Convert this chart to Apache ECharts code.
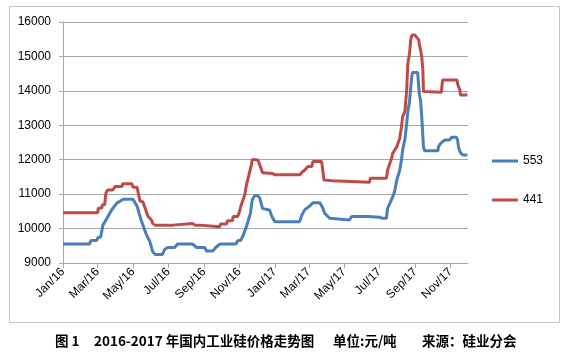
<!DOCTYPE html>
<html>
<head>
<meta charset="utf-8">
<script src="https://cdn.jsdelivr.net/npm/echarts@6/dist/echarts.min.js"></script>
<style>
html,body{margin:0;padding:0;background:#fff;}
#chart{width:569px;height:360px;}
</style>
</head>
<body>
<div id="chart"></div>
<script>
const tickDates = ['2016-01-01','2016-03-01','2016-05-01','2016-07-01','2016-09-01','2016-11-01',
                   '2017-01-01','2017-03-01','2017-05-01','2017-07-01','2017-09-01','2017-11-01'];
const tickLabels = ['Jan/16','Mar/16','May/16','Jul/16','Sep/16','Nov/16',
                    'Jan/17','Mar/17','May/17','Jul/17','Sep/17','Nov/17'];
const axisStart = '2016-01-01';
const axisEnd = '2017-12-01';

const dates553 = ['2016-01-01','2016-02-16','2016-02-18','2016-02-28','2016-03-02','2016-03-06','2016-03-10','2016-03-17','2016-03-25','2016-04-03','2016-04-14','2016-05-01','2016-05-08','2016-05-15','2016-05-23','2016-05-30','2016-06-04','2016-06-08','2016-06-21','2016-06-25','2016-06-30','2016-07-12','2016-07-17','2016-08-12','2016-08-19','2016-09-02','2016-09-05','2016-09-16','2016-09-21','2016-09-28','2016-10-26','2016-10-29','2016-11-03','2016-11-06','2016-11-13','2016-11-20','2016-11-23','2016-11-27','2016-12-03','2016-12-06','2016-12-11','2016-12-23','2016-12-27','2016-12-28','2017-01-01','2017-02-13','2017-02-17','2017-02-22','2017-03-02','2017-03-08','2017-03-20','2017-03-25','2017-03-28','2017-04-06','2017-04-09','2017-05-10','2017-05-14','2017-06-11','2017-07-01','2017-07-05','2017-07-13','2017-07-15','2017-07-19','2017-07-24','2017-07-27','2017-07-31','2017-08-05','2017-08-08','2017-08-10','2017-08-14','2017-08-17','2017-08-19','2017-08-22','2017-08-24','2017-08-26','2017-08-27','2017-09-05','2017-09-08','2017-09-10','2017-09-12','2017-09-14','2017-09-15','2017-09-17','2017-10-10','2017-10-11','2017-10-15','2017-10-18','2017-10-22','2017-10-30','2017-11-03','2017-11-11','2017-11-13','2017-11-15','2017-11-18','2017-11-22','2017-11-30'];
const values553 = [9550,9550,9650,9650,9750,9750,10100,10300,10540,10740,10850,10850,10650,10250,9870,9630,9330,9250,9250,9400,9450,9450,9550,9550,9450,9450,9350,9350,9450,9550,9550,9650,9650,9750,10050,10450,10830,10950,10950,10890,10580,10540,10350,10340,10200,10200,10400,10550,10650,10750,10750,10600,10450,10300,10250,10250,10350,10350,10330,10300,10300,10590,10735,10925,11070,11410,11700,11990,12280,12600,13050,13400,13700,14100,14450,14530,14530,13880,13735,13250,12670,12380,12260,12260,12380,12480,12480,12575,12575,12650,12650,12575,12330,12200,12140,12140];

const dates441 = ['2016-01-01','2016-03-01','2016-03-02','2016-03-08','2016-03-09','2016-03-13','2016-03-15','2016-03-18','2016-03-27','2016-03-31','2016-04-12','2016-04-13','2016-04-29','2016-05-01','2016-05-08','2016-05-09','2016-05-13','2016-05-18','2016-05-22','2016-05-27','2016-06-02','2016-06-04','2016-06-08','2016-07-09','2016-07-12','2016-08-12','2016-08-16','2016-08-24','2016-08-25','2016-09-28','2016-09-29','2016-10-10','2016-10-11','2016-10-20','2016-10-21','2016-10-29','2016-11-01','2016-11-04','2016-11-10','2016-11-13','2016-11-18','2016-11-22','2016-11-23','2016-12-03','2016-12-06','2016-12-11','2016-12-28','2017-01-01','2017-02-13','2017-02-18','2017-02-22','2017-02-27','2017-03-06','2017-03-08','2017-03-23','2017-03-25','2017-03-27','2017-04-11','2017-04-12','2017-06-14','2017-06-15','2017-07-13','2017-07-15','2017-07-19','2017-07-22','2017-07-24','2017-07-27','2017-07-31','2017-08-05','2017-08-08','2017-08-10','2017-08-14','2017-08-17','2017-08-19','2017-08-22','2017-08-24','2017-08-26','2017-08-31','2017-09-03','2017-09-07','2017-09-08','2017-09-10','2017-09-12','2017-09-14','2017-09-15','2017-09-17','2017-10-16','2017-10-18','2017-11-12','2017-11-13','2017-11-17','2017-11-18','2017-11-30'];
const values441 = [10460,10460,10590,10600,10690,10690,11025,11120,11120,11220,11220,11300,11300,11200,11200,11120,10800,10780,10590,10350,10250,10150,10100,10100,10150,10150,10100,10100,10050,10050,10130,10130,10230,10230,10350,10350,10490,10680,10975,11265,11600,11870,12010,11990,11850,11620,11600,11560,11560,11650,11700,11800,11800,11945,11945,11700,11410,11390,11345,11345,11460,11460,11700,11900,12040,12190,12190,12380,12620,12960,13250,13400,14025,14800,15090,15480,15620,15620,15570,15480,15330,15190,15000,14600,13980,13960,13960,14315,14315,14200,14025,13880,13880];

const yMin = 9000, yMax = 16000, yStep = 1000;

function ts(s){ return Date.UTC(+s.slice(0,4), +s.slice(5,7)-1, +s.slice(8,10)); }
const tickTs = tickDates.map(ts);
function pairs(d, v){ return d.map((x,i)=>[ts(x), v[i]]); }

const chart = echarts.init(document.getElementById('chart'), null, {renderer:'canvas'});
const gray = '#a6a6a6';
chart.setOption({
  animation: false,
  backgroundColor: '#fff',
  textStyle: {fontFamily: 'Liberation Sans'},
  grid: {left: 63, right: 101, top: 22, bottom: 97},
  legend: {
    orient: 'vertical', left: 492, top: 155, itemGap: 27, padding: 0,
    icon: 'rect', itemWidth: 26, itemHeight: 3,
    textStyle: {fontSize: 12, color: '#000', fontFamily: 'Liberation Sans'},
    data: ['553','441']
  },
  xAxis: {
    type: 'value', min: ts(axisStart), max: ts(axisEnd),
    splitLine: {show: false},
    axisLine: {show: true, lineStyle: {color: gray}},
    axisTick: {show: true, length: 5, lineStyle: {color: gray}, customValues: tickTs},
    axisLabel: {
      customValues: tickTs, rotate: 45, margin: 7, fontSize: 12, color: '#000',
      formatter: function(v){ const i = tickTs.indexOf(v); return i >= 0 ? tickLabels[i] : ''; }
    }
  },
  yAxis: {
    type: 'value', min: yMin, max: yMax, interval: yStep,
    axisLine: {show: true, lineStyle: {color: gray}},
    axisTick: {show: true, length: 4, lineStyle: {color: gray}},
    splitLine: {show: true, lineStyle: {color: gray, width: 1}},
    axisLabel: {fontSize: 12, color: '#000', margin: 12, formatter: function(v){ return String(v); }}
  },
  series: [
    {name: '553', type: 'line', data: pairs(dates553, values553), showSymbol: false, symbol: 'none',
     lineStyle: {color: '#4a7ebb', width: 3}, itemStyle: {color: '#4a7ebb'}, z: 3},
    {name: '441', type: 'line', data: pairs(dates441, values441), showSymbol: false, symbol: 'none',
     lineStyle: {color: '#be4b48', width: 3}, itemStyle: {color: '#be4b48'}, z: 2}
  ],
  graphic: [
    {type: 'rect', silent: true, shape: {x: 9.5, y: 6.5, width: 550, height: 316},
     style: {fill: 'none', stroke: '#c6c6c6', lineWidth: 1}, z: -1},
    {type: 'text', left: 55, top: 334, style: {text: '图 1', font: 'bold 13.5px "Noto Sans CJK SC"', fill: '#000'}},
    {type: 'text', left: 94, top: 334, style: {text: '2016-2017 年国内工业硅价格走势图', font: 'bold 13.5px "Noto Sans CJK SC"', fill: '#000'}},
    {type: 'text', left: 333, top: 334, style: {text: '单位:元/吨', font: 'bold 13.5px "Noto Sans CJK SC"', fill: '#000'}},
    {type: 'text', left: 422, top: 334, style: {text: '来源：硅业分会', font: 'bold 13.5px "Noto Sans CJK SC"', fill: '#000'}}
  ]
});
</script>
</body>
</html>
